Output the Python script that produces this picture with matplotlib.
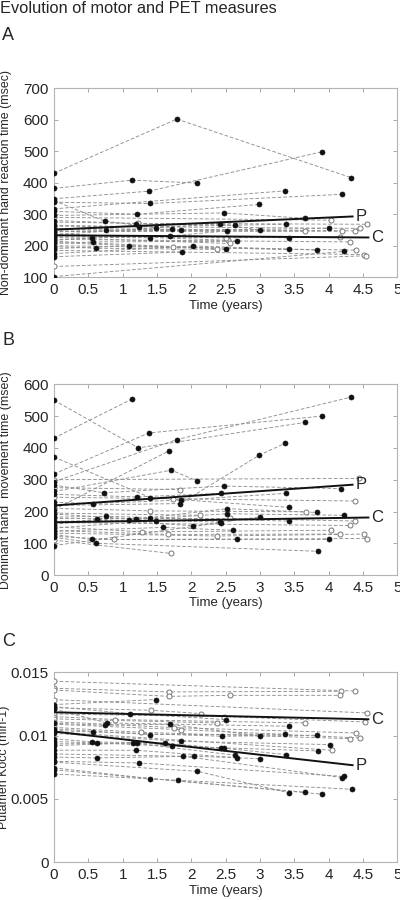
import matplotlib
matplotlib.use("Agg")
import matplotlib.pyplot as plt

# ---------------- DATA ----------------
x_ticks = [0, 0.5, 1, 1.5, 2, 2.5, 3, 3.5, 4, 4.5, 5]
x_tick_labels = ["0", "0.5", "1", "1.5", "2", "2.5", "3", "3.5", "4", "4.5", "5"]

# Panel A: non-dominant hand reaction time (msec)
A_pat_base = [430, 382, 349, 343, 338, 317, 309, 296, 280, 265, 254, 244, 235, 228,
              217, 207, 197, 191, 175, 165, 102]
A_pat_t = [[1.79, 4.33], [1.13, 2.08], [1.38, 3.90], [0.74, 1.49], [1.40, 4.19], [3.36],
           [1.21, 2.99], [2.47, 3.65], [1.20, 2.63], [1.24, 3.38], [0.76, 1.72], [1.85, 4.01],
           [2.42, 3.00], [1.40, 2.52], [0.55, 1.69, 3.42], [0.57, 2.66], [0.61, 2.51],
           [1.09, 3.43], [2.03, 3.83], [1.86], [4.23]]
A_pat_v = [[602, 416], [408, 399], [373, 498], [278, 257], [334, 363], [374],
           [300, 331], [304, 287], [270, 265], [260, 268], [249, 252], [249, 255],
           [270, 249], [225, 247], [225, 231, 225], [212, 214], [192, 188],
           [199, 188], [199, 186], [180], [182]]
A_con_base = [290, 275, 262, 255, 250, 245, 238, 232, 226, 220, 214, 210, 200, 185, 134]
A_con_t = [[4.04], [1.22, 4.56], [4.46], [4.39], [3.66], [4.19], [2.54], [2.50, 4.17],
           [2.56], [4.31], [2.37], [1.73], [4.40], [4.52], [4.54]]
A_con_v = [[281], [271, 268], [255], [247], [247], [246], [217], [225, 228],
           [207], [212], [191], [195], [186], [172], [168]]
A_fit_P = (251, 9.6, 4.35)   # intercept, slope, end time
A_fit_C = (233, -1.5, 4.58)

# Panel B: dominant hand movement time (msec)
B_pat_base = [550, 431, 371, 318, 294, 283, 263, 254, 229, 219, 206, 192, 182, 169,
              159, 148, 138, 128, 119, 93]
B_pat_t = [[1.23, 3.65], [1.13], [1.40, 3.42], [1.38, 3.90], [1.79, 4.33],
           [0.73, 2.47, 4.18], [1.71, 2.09], [1.21, 2.44], [0.57, 1.85, 3.38],
           [1.84, 2.99, 3.36], [1.68], [1.20, 2.52, 3.83], [0.76, 1.40, 3.42],
           [1.09, 2.52, 4.23], [0.62, 2.03, 3.00], [1.49, 2.42], [1.59, 2.61],
           [0.55, 2.66, 4.01], [0.61, 3.84], [2.44]]
B_pat_v = [[400, 480], [553], [244, 213], [447, 500], [426, 560],
           [259, 280, 272], [330, 296], [246, 257], [225, 236, 257],
           [225, 377, 414], [391], [176, 209, 197], [185, 181, 170],
           [173, 193, 188], [176, 155, 183], [171, 167], [150, 141],
           [112, 112, 112], [100, 75], [165]]
B_con_base = [300, 275, 245, 210, 195, 178, 165, 152, 140, 132, 122, 110]
B_con_t = [[4.45], [1.84], [1.74, 4.38], [1.40, 3.67], [2.12], [2.57, 4.39], [4.31],
           [1.28, 4.04], [1.66, 4.16], [2.37, 4.52], [0.87, 4.56], [1.71]]
B_con_v = [[304], [269], [240, 233], [202, 199], [188], [178, 170], [156],
           [136, 141], [128, 129], [123, 129], [112, 115], [68]]
B_fit_P = (219, 15.0, 4.35)
B_fit_C = (166, 3.3, 4.58)

# Panel C: putamen Kocc (min-1)
C_pat_base = [0.01245, 0.01229, 0.0121, 0.01097, 0.01053, 0.0104, 0.01018, 0.00975,
              0.00953, 0.00934, 0.00921, 0.00885, 0.00855, 0.0083, 0.00797, 0.0079,
              0.00745, 0.00697, 0.0073]
C_pat_t = [[1.49], [1.10, 2.51], [0.77, 3.42], [0.74, 1.69, 3.00], [1.40, 3.37],
           [0.57, 2.45, 3.83], [1.85, 4.02], [0.56, 1.61, 2.44], [0.63, 1.72, 3.84],
           [1.15, 2.64], [1.21, 2.48, 3.38], [1.20, 2.66], [1.88, 4.19],
           [0.62, 2.04, 3.00], [1.24, 4.23], [2.09, 3.43], [1.40, 3.66],
           [1.81, 4.34], [3.91]]
C_pat_v = [[0.01285], [0.01174, 0.01126], [0.0110, 0.01074], [0.01082, 0.01089, 0.00997],
           [0.01008, 0.01011], [0.01029, 0.00995, 0.01003], [0.00955, 0.00929],
           [0.0095, 0.00942, 0.0090], [0.00942, 0.00916, 0.00879], [0.00942, 0.00845],
           [0.00942, 0.0090, 0.0085], [0.00884, 0.00826], [0.00837, 0.00669],
           [0.00824, 0.00837, 0.00818], [0.00784, 0.00677], [0.00718, 0.00547],
           [0.00661, 0.00553], [0.00647, 0.00576], [0.00537]]
C_con_base = [0.01429, 0.01374, 0.0136, 0.01284, 0.0122, 0.01171, 0.0115, 0.01132,
              0.0111, 0.0109, 0.01065, 0.0103]
C_con_t = [[4.39], [1.67, 4.18], [1.67, 2.57, 4.16], [4.56], [1.42, 2.14], [2.48, 4.53],
           [0.89, 3.66], [2.37], [1.75, 4.40], [1.85, 4.46], [1.27, 4.31], [4.05]]
C_con_v = [[0.01352], [0.01345, 0.0135], [0.0131, 0.01318, 0.01318], [0.01179],
           [0.0120, 0.01174], [0.0115, 0.01108], [0.01127, 0.0110], [0.0110],
           [0.01063, 0.01021], [0.01047, 0.00981], [0.01026, 0.00976], [0.00884]]
C_fit_P = (0.01032, -0.000611, 4.35)
C_fit_C = (0.01184, -0.00012, 4.58)

# ---------------- PLOT ----------------
plt.rcParams['font.family'] = ['Liberation Sans', 'DejaVu Sans']
fig = plt.figure(figsize=(4, 9), dpi=100)
txt_col = "#262626"
line_col = "#8f8f8f"
spine_col = "#b4b4b4"


def draw_panel(ax, pb, pt, pv, cb, ct, cv, fitP, fitC, ylim, yticks, ytl, ylabel,
               ylab_x):
    for base, ts, vs in list(zip(cb, ct, cv)) + list(zip(pb, pt, pv)):
        ax.plot([0] + ts, [base] + vs, linestyle=(0, (4, 2.2)), color=line_col,
                linewidth=0.65, zorder=1)
    for base, ts, vs in zip(cb, ct, cv):
        ax.plot([0] + ts, [base] + vs, linestyle="none", marker="o", markersize=3.6,
                markerfacecolor="white", markeredgecolor="#777777",
                markeredgewidth=0.7, zorder=3)
    for base, ts, vs in zip(pb, pt, pv):
        ax.plot([0] + ts, [base] + vs, linestyle="none", marker="o", markersize=3.6,
                markerfacecolor="#111111", markeredgecolor="#111111",
                markeredgewidth=0.5, zorder=4)
    for (b0, sl, tend), lab in ((fitP, "P"), (fitC, "C")):
        ax.plot([0, tend], [b0, b0 + sl * tend], color="#111111", linewidth=1.4,
                zorder=5)
        ax.text(tend + 0.04, b0 + sl * tend, lab, fontsize=12, color=txt_col,
                va="center", ha="left", zorder=6)
    ax.set_xlim(0, 5)
    ax.set_ylim(*ylim)
    ax.set_xticks(x_ticks)
    ax.set_xticklabels(x_tick_labels)
    ax.set_yticks(yticks)
    ax.set_yticklabels(ytl)
    ax.tick_params(direction="in", length=3, width=0.6, color="#9a9a9a",
                   labelsize=11, labelcolor=txt_col, top=True, right=True, pad=4)
    for s in ax.spines.values():
        s.set_color(spine_col)
        s.set_linewidth(0.8)
    ax.set_xlabel("Time (years)", fontsize=9.5, color=txt_col, labelpad=2)
    ax.set_ylabel(ylabel, fontsize=8.9, color=txt_col)
    ax.yaxis.set_label_coords(ylab_x, 0.5)


axA = fig.add_axes([0.135, 0.692, 0.858, 0.21])
draw_panel(axA, A_pat_base, A_pat_t, A_pat_v, A_con_base, A_con_t, A_con_v,
           A_fit_P, A_fit_C, (100, 700), [100, 200, 300, 400, 500, 600, 700],
           ["100", "200", "300", "400", "500", "600", "700"],
           "Non-dominant hand reaction time (msec)", -0.122)

axB = fig.add_axes([0.135, 0.361, 0.858, 0.212])
draw_panel(axB, B_pat_base, B_pat_t, B_pat_v, B_con_base, B_con_t, B_con_v,
           B_fit_P, B_fit_C, (0, 600), [0, 100, 200, 300, 400, 500, 600],
           ["0", "100", "200", "300", "400", "500", "600"],
           "Dominant hand  movement time (msec)", -0.122)

axC = fig.add_axes([0.135, 0.042, 0.858, 0.211])
draw_panel(axC, C_pat_base, C_pat_t, C_pat_v, C_con_base, C_con_t, C_con_v,
           C_fit_P, C_fit_C, (0, 0.015), [0, 0.005, 0.01, 0.015],
           ["0", "0.005", "0.01", "0.015"], "Putamen Kocc (min-1)", -0.127)

fig.text(0.0, 0.999, "Evolution of motor and PET measures", fontsize=11.8,
         color=txt_col, ha="left", va="top")
fig.text(0.005, 0.960, "A", fontsize=13, color=txt_col, ha="left", va="center")
fig.text(0.005, 0.622, "B", fontsize=13, color=txt_col, ha="left", va="center")
fig.text(0.005, 0.287, "C", fontsize=13, color=txt_col, ha="left", va="center")

fig.savefig("out.png", dpi=100)
